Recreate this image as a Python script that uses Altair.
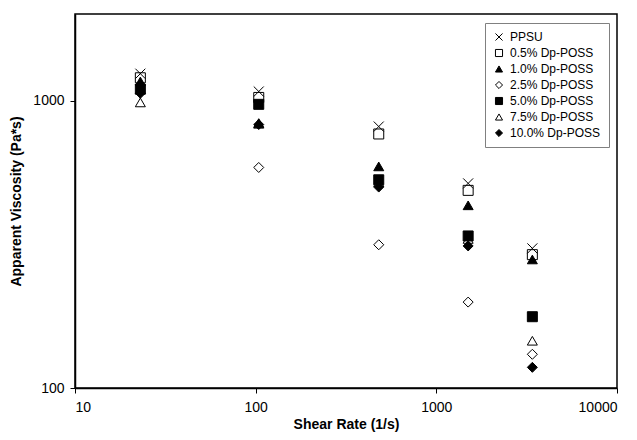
import altair as alt
import pandas as pd

# ---- data ----
shear_rate = [23, 104, 480, 1500, 3400]
series_names = ["PPSU", "0.5% Dp-POSS", "1.0% Dp-POSS", "2.5% Dp-POSS",
                "5.0% Dp-POSS", "7.5% Dp-POSS", "10.0% Dp-POSS"]
ppsu = [1240, 1075, 812, 515, 306]
dp05 = [1200, 1025, 765, 487, 291]
dp10 = [1165, 835, 590, 432, 280]
dp25 = [1135, 585, 315, 199, 131]
dp50 = [1095, 970, 530, 338, 177]
dp75 = [985, 830, 520, 330, 146]
dp100 = [1060, 825, 500, 312, 118]

x_ticks = [10, 100, 1000, 10000]
y_ticks = [100, 1000]

all_series = [ppsu, dp05, dp10, dp25, dp50, dp75, dp100]
rows = []
for name, vals in zip(series_names, all_series):
    for sr, v in zip(shear_rate, vals):
        rows.append({"series": name, "shear": sr, "visc": v})
df = pd.DataFrame(rows)

x_path = "M-1,-1L1,1M-1,1L1,-1"
shapes = [x_path, "square", "triangle-up", "diamond", "square", "triangle-up", "diamond"]
fills = ["transparent", "transparent", "black", "transparent", "black", "transparent", "black"]
strokes = ["black"] * 7

FONT = "Liberation Sans"

legend = alt.Legend(
    title=None, orient="none", legendX=410, legendY=9,
    strokeColor="#808080", fillColor="white", padding=8,
    symbolSize=50, symbolStrokeWidth=1,
    labelFont=FONT, labelFontSize=12, labelColor="black",
    labelOffset=5, rowPadding=4,
)

chart = alt.Chart(df).mark_point(strokeWidth=1, opacity=1, size=100).encode(
    x=alt.X("shear:Q", scale=alt.Scale(type="log", domain=[10, 10000], nice=False),
            axis=alt.Axis(title="Shear Rate (1/s)", values=x_ticks, format="d",
                          tickSize=5, labelPadding=7, titlePadding=3)),
    y=alt.Y("visc:Q", scale=alt.Scale(type="log", domain=[100, 2000], nice=False),
            axis=alt.Axis(title="Apparent Viscosity (Pa*s)", values=y_ticks, format="d",
                          tickSize=5, labelPadding=6, titlePadding=9)),
    shape=alt.Shape("series:N", scale=alt.Scale(domain=series_names, range=shapes), legend=legend),
    fill=alt.Fill("series:N", scale=alt.Scale(domain=series_names, range=fills), legend=legend),
    stroke=alt.Stroke("series:N", scale=alt.Scale(domain=series_names, range=strokes), legend=legend),
).properties(
    width=542, height=374,
    autosize=alt.AutoSizeParams(type="none"),
    padding={"left": 67, "top": 6, "right": 10, "bottom": 44},
).configure_view(
    stroke="black", strokeWidth=1.5
).configure_axis(
    grid=False, domainColor="black", domainWidth=1.5, tickColor="black",
    labelFont=FONT, labelFontSize=14, labelColor="black",
    titleFont=FONT, titleFontSize=14, titleFontWeight="bold", titleColor="black",
)

chart.save("out.html", embed_options={"renderer": "svg", "actions": False})
